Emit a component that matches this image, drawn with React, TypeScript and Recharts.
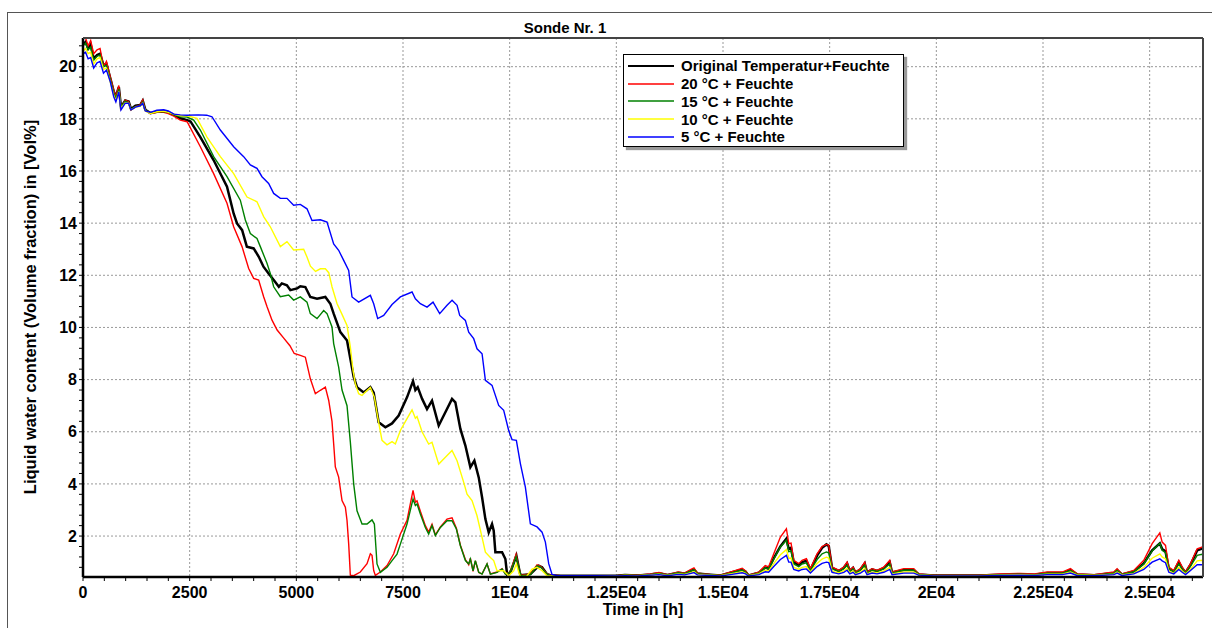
import React from 'react';
import { LineChart, Line, XAxis, YAxis, CartesianGrid } from 'recharts';

const FONT = "'Liberation Sans', Arial, Helvetica, sans-serif";

// Shared sampling grid for the common start of all curves (hours)
const earlyHours = [0, 60, 120, 180, 250, 330, 400, 480, 550, 640, 720, 770, 840, 890, 990, 1070, 1125, 1230, 1340, 1400, 1460, 1580, 1730, 1890, 2000, 2130, 2280, 2440];

const blackEarly = [20.85, 20.95, 20.7, 20.85, 20.3, 20.45, 20.5, 20.05, 20.1, 19.55, 19.05, 18.85, 19.22, 18.45, 18.7, 18.66, 18.38, 18.5, 18.53, 18.7, 18.35, 18.22, 18.27, 18.3, 18.25, 18.15, 18.02, 17.95];
const redEarly = [21.1, 21.1, 20.8, 21.0, 20.5, 20.65, 20.7, 20.0, 20.2, 19.6, 19.1, 18.85, 19.28, 18.4, 18.72, 18.66, 18.34, 18.47, 18.53, 18.72, 18.34, 18.2, 18.25, 18.25, 18.2, 18.1, 17.95, 17.89];
const greenEarly = [20.8, 20.9, 20.65, 20.75, 20.25, 20.4, 20.45, 20.0, 20.05, 19.5, 19.0, 18.8, 19.15, 18.45, 18.68, 18.62, 18.36, 18.47, 18.5, 18.65, 18.34, 18.21, 18.27, 18.28, 18.25, 18.15, 18.08, 18.07];
const yellowEarly = [20.6, 20.7, 20.5, 20.55, 20.1, 20.3, 20.35, 19.9, 19.95, 19.4, 18.9, 18.7, 19.05, 18.4, 18.62, 18.6, 18.34, 18.45, 18.48, 18.6, 18.3, 18.2, 18.27, 18.3, 18.25, 18.18, 18.12, 18.12];
const blueEarly = [20.5, 20.55, 20.3, 20.35, 19.95, 20.15, 20.2, 19.75, 19.87, 19.42, 18.85, 18.65, 19.04, 18.34, 18.6, 18.6, 18.34, 18.45, 18.5, 18.6, 18.3, 18.25, 18.33, 18.35, 18.3, 18.18, 18.15, 18.14];

// Drying phase, [hour, Vol%]
const blackMain: [number, number][] = [
  [2520, 17.9], [2750, 17.3], [3060, 16.42], [3375, 15.4], [3530, 14.37], [3610, 13.99], [3730, 13.73], [3840, 13.1], [4000, 13.03], [4120, 12.71],
  [4230, 12.33], [4350, 12.07], [4470, 11.82], [4590, 11.56], [4660, 11.69], [4780, 11.62], [4860, 11.43], [5020, 11.5], [5094, 11.58], [5211, 11.55],
  [5328, 11.17], [5485, 11.1], [5680, 11.17], [5797, 10.91], [5875, 10.53], [6032, 9.82], [6188, 9.5], [6266, 8.8], [6344, 8.1], [6422, 7.71],
  [6579, 7.51], [6735, 7.71], [6813, 7.5], [6930, 6.36], [7087, 6.17], [7243, 6.32], [7399, 6.62], [7594, 7.32], [7735, 7.94], [7790, 7.6],
  [7845, 7.71], [7946, 7.27], [8063, 6.87], [8180, 7.19], [8337, 6.24], [8493, 6.75], [8649, 7.26], [8727, 7.13], [8845, 6.11], [8962, 5.47],
  [9079, 4.64], [9173, 4.89], [9275, 4.25], [9353, 3.49], [9431, 2.65], [9509, 2.14], [9587, 2.46], [9626, 2.21], [9665, 1.38], [9822, 1.38],
  [9900, 1.12], [9939, 0.54], [10017, 0.61], [10157, 1.25], [10212, 0.8], [10251, 0.5], [10486, 0.54], [10681, 0.86], [10759, 0.8], [10876, 0.54], [10954, 0.5],
];

const redMain: [number, number][] = [
  [2750, 16.93], [3062, 15.9], [3375, 14.76], [3531, 13.86], [3727, 13.1], [3883, 12.26], [4000, 11.88], [4117, 11.82], [4234, 11.18], [4312, 10.8],
  [4430, 10.28], [4550, 9.9], [4700, 9.6], [4850, 9.3], [4950, 9.0], [5094, 8.93], [5211, 8.86], [5328, 8.03], [5446, 7.46], [5563, 7.59],
  [5680, 7.71], [5758, 7.21], [5836, 6.4], [5875, 5.54], [5914, 4.65], [5992, 4.26], [6071, 3.36], [6149, 3.11], [6188, 2.6], [6227, 1.7],
  [6266, 0.5], [6344, 0.48], [6500, 0.62], [6657, 0.94], [6735, 1.32], [6774, 1.26], [6813, 0.68], [6852, 0.49], [6970, 0.62], [7126, 0.87],
  [7282, 1.32], [7438, 2.08], [7594, 2.6], [7735, 3.75], [7790, 3.3], [7829, 3.35], [7907, 2.95], [8024, 2.4], [8102, 2.15], [8180, 2.45],
  [8258, 2.05], [8376, 2.35], [8532, 2.65], [8649, 2.7], [8751, 2.3], [8845, 1.65], [8962, 1.1], [9040, 0.9], [9079, 1.15], [9142, 0.65],
  [9196, 1.05], [9275, 0.6], [9353, 0.55], [9470, 0.93], [9548, 0.55], [9704, 0.62], [9822, 0.75], [9900, 0.55], [10017, 0.62], [10150, 1.3],
  [10212, 0.8], [10266, 0.5], [10486, 0.55], [10642, 0.9], [10720, 0.85], [10876, 0.55], [10954, 0.5],
];

const greenMain: [number, number][] = [
  [2594, 17.95], [2750, 17.57], [3062, 16.55], [3375, 15.78], [3687, 14.88], [3805, 14.12], [3922, 13.6], [4078, 13.41], [4156, 13.1], [4312, 12.46],
  [4390, 12.07], [4469, 11.56], [4625, 11.18], [4820, 11.24], [4937, 11.05], [5094, 11.17], [5250, 10.97], [5328, 10.53], [5485, 10.34], [5641, 10.65],
  [5719, 10.53], [5836, 10.02], [5875, 9.38], [5992, 8.48], [6071, 7.6], [6188, 7.0], [6266, 5.6], [6344, 4.0], [6422, 2.97], [6540, 2.46],
  [6657, 2.46], [6774, 2.62], [6829, 2.46], [6891, 0.93], [6970, 0.61], [7126, 0.8], [7243, 1.06], [7360, 1.31], [7438, 1.69], [7594, 2.46],
  [7735, 3.42], [7790, 3.17], [7829, 3.23], [7907, 2.85], [8024, 2.33], [8102, 2.08], [8180, 2.4], [8258, 2.02], [8376, 2.33], [8532, 2.59],
  [8649, 2.59], [8751, 2.27], [8845, 1.63], [8962, 1.06], [9040, 0.93], [9079, 1.12], [9142, 0.67], [9196, 1.06], [9275, 0.61], [9353, 0.54],
  [9470, 0.93], [9548, 0.54], [9704, 0.61], [9822, 0.74], [9900, 0.54], [10017, 0.61], [10150, 1.21], [10212, 0.8], [10266, 0.48], [10486, 0.52],
  [10642, 0.86], [10720, 0.82], [10876, 0.54], [10954, 0.48],
];

const yellowMain: [number, number][] = [
  [2672, 18.02], [2906, 17.3], [3219, 16.55], [3531, 15.9], [3844, 15.0], [4078, 14.82], [4234, 14.25], [4390, 13.86], [4625, 13.1], [4781, 13.29],
  [4937, 12.97], [5172, 13.0], [5250, 12.7], [5330, 12.35], [5450, 12.15], [5563, 12.25], [5680, 12.25], [5760, 12.1], [5836, 11.56], [5953, 10.92],
  [6071, 10.5], [6188, 10.08], [6266, 9.25], [6329, 8.35], [6383, 7.84], [6461, 7.46], [6540, 7.39], [6618, 7.52], [6735, 7.7], [6829, 7.33],
  [6907, 6.56], [7008, 5.67], [7125, 5.5], [7243, 5.62], [7321, 5.53], [7438, 6.05], [7594, 6.5], [7712, 6.84], [7790, 6.52], [7829, 6.58],
  [7946, 6.0], [8102, 5.53], [8180, 5.6], [8337, 4.76], [8493, 5.02], [8649, 5.28], [8767, 4.89], [8923, 4.06], [9001, 3.61], [9118, 3.36],
  [9235, 2.78], [9353, 1.95], [9431, 1.38], [9548, 1.18], [9626, 1.06], [9704, 0.67], [9861, 0.67], [9978, 0.48], [10095, 0.67], [10157, 0.93],
  [10212, 0.61], [10251, 0.44], [10400, 0.46], [10524, 0.73], [10642, 0.8], [10759, 0.67], [10876, 0.48],
];

const blueMain: [number, number][] = [
  [2700, 18.15], [2900, 18.14], [3023, 18.08], [3219, 17.57], [3531, 16.93], [3766, 16.55], [3922, 16.23], [4078, 16.1], [4195, 15.78], [4351, 15.52],
  [4469, 15.14], [4625, 14.95], [4781, 14.95], [4937, 14.69], [5094, 14.72], [5250, 14.55], [5367, 14.1], [5563, 14.13], [5719, 14.04], [5875, 13.2],
  [5992, 12.96], [6110, 12.57], [6227, 12.19], [6305, 11.17], [6461, 10.97], [6735, 11.23], [6813, 10.91], [6907, 10.34], [7047, 10.46], [7243, 10.88],
  [7438, 11.17], [7712, 11.36], [7790, 11.1], [7907, 10.91], [8063, 10.78], [8204, 10.97], [8360, 10.53], [8532, 10.85], [8650, 11.04], [8767, 10.85],
  [8829, 10.46], [8962, 10.27], [9040, 9.82], [9157, 9.57], [9235, 9.18], [9353, 8.99], [9431, 7.97], [9587, 7.78], [9743, 7.01], [9860, 6.82],
  [9977, 6.05], [10055, 5.7], [10157, 5.67], [10251, 4.78], [10368, 3.88], [10485, 2.47], [10642, 2.35], [10759, 2.15], [10837, 1.77], [10915, 0.94],
  [10993, 0.53], [11110, 0.48],
];

// Long-term phase: shared hours, one value list per curve
const tailHours = [
  11200, 12000, 12500, 12700, 13000, 13300, 13500, 13700, 13950, 14100,
  14250, 14320, 14400, 14700, 14940, 15170, 15450, 15530, 15600, 15840,
  15990, 16070, 16190, 16345, 16486, 16541, 16595, 16658, 16775, 16853,
  16955, 17049, 17205, 17322, 17424, 17478, 17556, 17635, 17713, 17830,
  17908, 17971, 18049, 18104, 18221, 18322, 18377, 18494, 18611, 18768,
  18908, 18963, 19237, 19471, 19588, 19940, 21000, 21500, 21970, 22300,
  22600, 22950, 23144, 23300, 23700, 24160, 24237, 24350, 24628, 24862,
  25058, 25238, 25293, 25371, 25449, 25566, 25683, 25762, 25840, 25957,
  26113, 26230, 26300,
];

const redTail = [
  0.48, 0.48, 0.48, 0.52, 0.5, 0.55, 0.6, 0.52, 0.62, 0.58,
  0.72, 0.78, 0.58, 0.53, 0.5, 0.62, 0.76, 0.66, 0.5, 0.62,
  0.87, 0.82, 1.32, 1.96, 2.28, 1.71, 1.73, 1.07, 0.94, 1.07,
  1.13, 0.75, 1.32, 1.6, 1.68, 1.65, 0.81, 0.75, 0.68, 0.81,
  1.0, 0.68, 0.81, 0.62, 0.75, 1.0, 0.62, 0.75, 0.68, 0.81,
  1.07, 0.62, 0.75, 0.75, 0.55, 0.5, 0.5, 0.55, 0.57, 0.55,
  0.62, 0.62, 0.75, 0.55, 0.52, 0.62, 0.75, 0.55, 0.68, 1.07,
  1.71, 2.12, 1.77, 1.64, 0.81, 0.68, 1.07, 0.81, 0.62, 0.94,
  1.51, 1.58, 1.5,
];
const blackTail = [
  0.48, 0.48, 0.48, 0.51, 0.49, 0.53, 0.57, 0.51, 0.59, 0.56,
  0.67, 0.72, 0.56, 0.52, 0.49, 0.59, 0.71, 0.63, 0.49, 0.59,
  0.79, 0.75, 1.15, 1.6, 1.9, 1.5, 1.55, 1.0, 0.88, 1.0,
  1.05, 0.7, 1.25, 1.55, 1.68, 1.62, 0.78, 0.72, 0.66, 0.78,
  0.95, 0.66, 0.78, 0.6, 0.72, 0.95, 0.6, 0.72, 0.66, 0.77,
  1.0, 0.6, 0.7, 0.7, 0.53, 0.49, 0.49, 0.52, 0.54, 0.52,
  0.58, 0.58, 0.69, 0.53, 0.5, 0.58, 0.69, 0.53, 0.64, 0.95,
  1.45, 1.72, 1.5, 1.42, 0.75, 0.64, 1.0, 0.76, 0.6, 0.9,
  1.45, 1.52, 1.45,
];
const greenTail = [
  0.48, 0.48, 0.48, 0.51, 0.49, 0.53, 0.57, 0.51, 0.59, 0.56,
  0.66, 0.71, 0.56, 0.52, 0.49, 0.58, 0.7, 0.62, 0.49, 0.58,
  0.78, 0.74, 1.12, 1.58, 1.84, 1.4, 1.42, 0.93, 0.83, 0.93,
  0.97, 0.68, 1.1, 1.32, 1.39, 1.36, 0.74, 0.69, 0.64, 0.74,
  0.88, 0.64, 0.74, 0.59, 0.69, 0.88, 0.59, 0.69, 0.64, 0.74,
  0.93, 0.59, 0.69, 0.69, 0.53, 0.49, 0.49, 0.52, 0.54, 0.52,
  0.58, 0.58, 0.68, 0.53, 0.5, 0.58, 0.68, 0.53, 0.63, 0.93,
  1.43, 1.72, 1.45, 1.36, 0.74, 0.63, 0.93, 0.74, 0.59, 0.84,
  1.26, 1.3, 1.25,
];
const yellowTail = [
  0.47, 0.47, 0.47, 0.49, 0.48, 0.51, 0.54, 0.49, 0.55, 0.53,
  0.6, 0.64, 0.53, 0.5, 0.48, 0.55, 0.63, 0.57, 0.48, 0.55,
  0.69, 0.66, 0.94, 1.28, 1.48, 1.15, 1.16, 0.8, 0.73, 0.8,
  0.83, 0.62, 0.95, 1.12, 1.19, 1.16, 0.66, 0.62, 0.59, 0.66,
  0.76, 0.59, 0.66, 0.55, 0.62, 0.76, 0.55, 0.62, 0.59, 0.66,
  0.8, 0.55, 0.62, 0.62, 0.51, 0.48, 0.48, 0.5, 0.52, 0.5,
  0.54, 0.54, 0.62, 0.51, 0.49, 0.54, 0.62, 0.51, 0.57, 0.8,
  1.15, 1.32, 1.2, 1.12, 0.66, 0.57, 0.8, 0.66, 0.55, 0.72,
  1.05, 1.07, 1.02,
];
const blueTail = [
  0.48, 0.48, 0.47, 0.48, 0.47, 0.5, 0.52, 0.48, 0.53, 0.51,
  0.57, 0.6, 0.51, 0.49, 0.47, 0.52, 0.59, 0.55, 0.47, 0.52,
  0.63, 0.61, 0.83, 1.1, 1.26, 1.0, 1.0, 0.72, 0.66, 0.72,
  0.74, 0.58, 0.83, 0.95, 1.0, 0.98, 0.61, 0.58, 0.55, 0.61,
  0.69, 0.55, 0.61, 0.52, 0.58, 0.69, 0.52, 0.58, 0.55, 0.61,
  0.72, 0.52, 0.58, 0.58, 0.5, 0.47, 0.47, 0.49, 0.5, 0.49,
  0.52, 0.52, 0.58, 0.49, 0.48, 0.52, 0.58, 0.49, 0.55, 0.72,
  1.0, 1.13, 1.05, 0.98, 0.61, 0.55, 0.72, 0.61, 0.52, 0.68,
  0.9, 0.9, 0.87,
];

// Axis ticks: minor every 500 h / 0.4 Vol%, labelled every 2500 h / 2 Vol%
const xTicks = Array.from({ length: 53 }, (_, i) => i * 500);
const yTicks = Array.from({ length: 51 }, (_, i) => Math.round((0.8 + 0.4 * i) * 10) / 10);
const xGrid = [2500, 5000, 7500, 10000, 12500, 15000, 17500, 20000, 22500, 25000];
const yGrid = [2, 4, 6, 8, 10, 12, 14, 16, 18, 20];

const X_MAX = 26250;
const Y_MIN = 0.43;
const Y_MAX = 21.1;

type Pt = { h: number; v: number };

const buildSeries = (early: number[], main: [number, number][], tail: number[]): Pt[] => [
  ...earlyHours.map((h, i) => ({ h, v: early[i] })),
  ...main.map(([h, v]) => ({ h, v })),
  ...tailHours.map((h, i) => ({ h, v: tail[i] })),
];

const series = [
  { name: 'Original Temperatur+Feuchte', color: '#000000', width: 2.5, legendWidth: 2, data: buildSeries(blackEarly, blackMain, blackTail) },
  { name: '20 °C + Feuchte', color: '#ff0000', width: 1.4, legendWidth: 1.6, data: buildSeries(redEarly, redMain, redTail) },
  { name: '15 °C + Feuchte', color: '#008000', width: 1.4, legendWidth: 1.6, data: buildSeries(greenEarly, greenMain, greenTail) },
  { name: '10 °C + Feuchte', color: '#ffff00', width: 1.4, legendWidth: 1.6, data: buildSeries(yellowEarly, yellowMain, yellowTail) },
  { name: '5 °C + Feuchte', color: '#0000ff', width: 1.4, legendWidth: 1.6, data: buildSeries(blueEarly, blueMain, blueTail) },
];

const formatX = (v: number) => {
  if (v % 2500 !== 0) return '';
  if (v < 10000) return String(v);
  return `${v / 10000}E04`;
};
const formatY = (v: number) => (Number.isInteger(v) && v % 2 === 0 ? String(v) : '');

const tickStyle = { fill: '#000', fontSize: 16, fontWeight: 700, fontFamily: FONT };

export default function App() {
  return (
    <div style={{ position: 'absolute', left: 0, top: 0, width: 1212, height: 628, overflow: 'hidden', background: '#fff', fontFamily: FONT }}>
      <div style={{ position: 'absolute', left: 7, top: 12, width: 1300, height: 700, border: '1px solid #555' }} />
      <div style={{ position: 'absolute', left: 0, top: 0 }}>
        <LineChart width={1212} height={628} margin={{ top: 38, right: 9, bottom: 11, left: 0 }}>
          <CartesianGrid
            stroke="#999"
            strokeDasharray="2 2"
            horizontalValues={yGrid}
            verticalValues={xGrid}
          />
          <XAxis
            dataKey="h"
            type="number"
            domain={[0, X_MAX]}
            allowDataOverflow
            ticks={xTicks}
            interval={0}
            tickFormatter={formatX}
            tickSize={4}
            tickMargin={6}
            height={40}
            axisLine={{ stroke: '#000', strokeWidth: 2.5 }}
            tickLine={{ stroke: '#000' }}
            tick={tickStyle}
          />
          <YAxis
            type="number"
            domain={[Y_MIN, Y_MAX]}
            allowDataOverflow
            ticks={yTicks}
            interval={0}
            tickFormatter={formatY}
            tickSize={4}
            tickMargin={2}
            width={83}
            axisLine={{ stroke: '#000', strokeWidth: 2.5 }}
            tickLine={{ stroke: '#000' }}
            tick={tickStyle}
          />
          {series.map((s) => (
            <Line
              key={s.name}
              data={s.data}
              dataKey="v"
              name={s.name}
              type="linear"
              stroke={s.color}
              strokeWidth={s.width}
              dot={false}
              activeDot={false}
              isAnimationActive={false}
            />
          ))}
        </LineChart>
      </div>
      <svg width={1212} height={628} style={{ position: 'absolute', left: 0, top: 0, pointerEvents: 'none' }}>
        {/* plot frame: top and right edges */}
        <line x1={83} y1={38} x2={1203} y2={38} stroke="#444" strokeWidth={2} />
        <line x1={1203} y1={38} x2={1203} y2={577} stroke="#444" strokeWidth={2} />
        <text x={565} y={33} textAnchor="middle" fontFamily={FONT} fontWeight={700} fontSize={15} fill="#000">
          Sonde Nr. 1
        </text>
        <text x={643} y={615} textAnchor="middle" fontFamily={FONT} fontWeight={700} fontSize={16} fill="#000">
          Time in [h]
        </text>
        <text
          x={35.5}
          y={307}
          textAnchor="middle"
          transform="rotate(-90 35.5 307)"
          fontFamily={FONT}
          fontWeight={700}
          fontSize={16.5}
          fill="#000"
        >
          Liquid water content (Volume fraction) in [Vol%]
        </text>
      </svg>
      <div
        style={{
          position: 'absolute',
          left: 623,
          top: 54,
          width: 281,
          height: 93,
          boxSizing: 'border-box',
          background: '#fff',
          border: '1px solid #000',
          boxShadow: '3px 3px 1px #999',
          paddingTop: 2,
        }}
      >
        {series.map((s) => (
          <div key={s.name} style={{ display: 'flex', alignItems: 'center', height: 17.75 }}>
            <svg width={50} height={8} style={{ display: 'block', flex: 'none' }}>
              <line x1={4} y1={4} x2={50} y2={4} stroke={s.color} strokeWidth={s.legendWidth} />
            </svg>
            <span style={{ marginLeft: 7, fontSize: 15, fontWeight: 700, color: '#000', lineHeight: '17px', whiteSpace: 'nowrap' }}>
              {s.name}
            </span>
          </div>
        ))}
      </div>
    </div>
  );
}
